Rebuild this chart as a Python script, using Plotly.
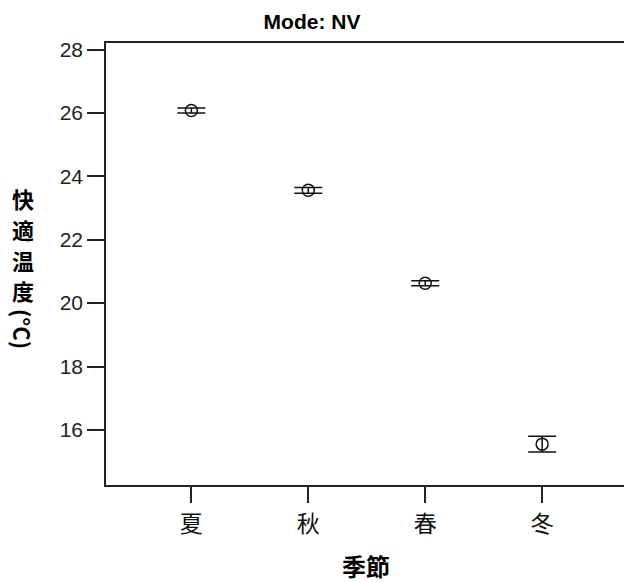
import plotly.graph_objects as go

seasons = ["夏", "秋", "春", "冬"]
mean_temp = [26.08, 23.56, 20.63, 15.55]
err_temp = [0.08, 0.09, 0.08, 0.25]
y_ticks = [16, 18, 20, 22, 24, 26, 28]
y_title_chars = ["快", "適", "温", "度"]

num_font = "Liberation Sans, Arial, sans-serif"
cjk_font = "Noto Sans CJK JP, Noto Sans CJK SC, sans-serif"

W, H = 624, 582
M_L, M_R, M_T, M_B = 106, 0, 43, 97
plot_h = H - M_T - M_B


def py(p):
    """paper y for a pixel row"""
    return (H - M_B - p) / plot_h


def px(p):
    return (p - M_L) / (W - M_L - M_R)


fig = go.Figure()
fig.add_trace(go.Scatter(
    x=list(range(len(seasons))), y=mean_temp,
    mode="markers",
    marker=dict(symbol="circle-open", size=12, color="#111", line=dict(width=1.5, color="#111")),
    error_y=dict(type="data", array=err_temp, visible=True, color="#111", thickness=1.5, width=14),
    showlegend=False,
))

fig.update_layout(
    width=W, height=H,
    margin=dict(l=M_L, r=M_R, t=M_T, b=M_B),
    plot_bgcolor="white", paper_bgcolor="white",
    title=dict(text="<b>Mode: NV</b>", x=0.5, xanchor="center", y=1 - 22 / H, yanchor="middle",
               font=dict(family=num_font, size=21, color="#000")),
)
fig.update_xaxes(
    range=[-0.73, 3.70], tickmode="array", tickvals=list(range(len(seasons))), ticktext=seasons,
    showgrid=False, zeroline=False, showline=True, mirror=True, linecolor="#222", linewidth=1.5,
    ticks="outside", ticklen=16, tickwidth=1.5, tickcolor="#222", automargin=False,
    tickfont=dict(family=cjk_font, size=23, color="#111"), ticklabelstandoff=2,
)
fig.update_yaxes(
    range=[14.26, 28.21], tickmode="array", tickvals=y_ticks, ticktext=[str(v) for v in y_ticks],
    showgrid=False, zeroline=False, showline=True, linecolor="#222", linewidth=1.5,
    ticks="outside", ticklen=17, tickwidth=1.5, tickcolor="#222", automargin=False,
    tickfont=dict(family=num_font, size=21, color="#222"),
)

# y-axis title: upright stacked CJK characters, then rotated (°C)
for ch, yc in zip(y_title_chars, [198, 229, 260, 290]):
    fig.add_annotation(
        text=f"<b>{ch}</b>", xref="paper", yref="paper",
        x=px(23), y=py(yc), xanchor="center", yanchor="middle", showarrow=False,
        font=dict(family=cjk_font, size=22, color="#000"),
    )
fig.add_annotation(
    text="<b>(°C)</b>", xref="paper", yref="paper", textangle=90,
    x=px(23), y=py(329), xanchor="center", yanchor="middle", showarrow=False,
    font=dict(family=cjk_font, size=22, color="#000"),
)
# x-axis title
fig.add_annotation(
    text="<b>季節</b>", xref="paper", yref="paper",
    x=px(366), y=py(565), xanchor="center", yanchor="middle", showarrow=False,
    font=dict(family=cjk_font, size=24, color="#000"),
)

fig.write_html(
    "out.html",
    config={"displayModeBar": False},
    post_script="document.body.style.margin='0';document.body.style.padding='0';"
                "document.body.style.overflow='hidden';",
)
